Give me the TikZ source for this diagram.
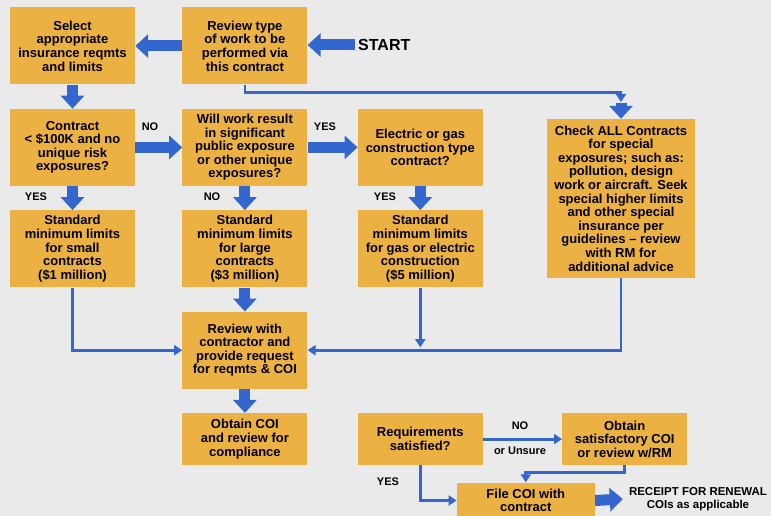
\documentclass[tikz,border=0pt]{standalone}
\usepackage{fontspec}
\setmainfont{Liberation Sans}
\usetikzlibrary{positioning, arrows.meta, calc}
\definecolor{bg}{HTML}{EAEAEA}
\definecolor{gold}{HTML}{EBB143}
\definecolor{flow}{HTML}{3466CF}
\begin{document}
\begin{tikzpicture}[x=1pt,y=-1pt,node distance=24pt and 47pt]
    \tikzset{b/.style={fill=gold,minimum width=125pt,minimum height=77pt,inner sep=2pt,align=center,font=\bfseries\fontsize{13}{13.6}\selectfont}, s/.style={b,minimum height=52pt}, lbl/.style={font=\bfseries\fontsize{11}{12.5}\selectfont,inner sep=1pt,align=center}, fat/.style={draw=flow,line width=11pt,-{Triangle[length=13pt,width=23pt]}}, thn/.style={draw=flow,line width=2.8pt,-{Triangle[length=8pt,width=10pt]}}}
    \fill[bg] (0,0) rectangle (771,516);
    \useasboundingbox (0,0) rectangle (771,516);
    % top row
    \node[b] (sel) at (72.5,46) {Select\\appropriate\\insurance reqmts\\and limits};
    \node[b,right=of sel] (rev) {Review type\\of work to be\\performed via\\this contract};
    \node[anchor=west,inner sep=3pt,font=\bfseries\fontsize{16}{18}\selectfont] (go) at (355,45) {START};
    % decisions
    \node[b,below=of sel] (con) {Contract\\< \$100K and no\\unique risk\\exposures?};
    \node[b,below=of rev] (wil) {Will work result\\in significant\\public exposure\\or other unique\\exposures?};
    \node[b,right=50pt of wil] (ele) {Electric or gas\\construction type\\contract?};
    \node[b,minimum width=148pt,minimum height=159pt] (chk) at (621,198.5) {Check ALL Contracts\\for special\\exposures; such as:\\pollution, design\\work or aircraft. Seek\\special higher limits\\and other special\\insurance per\\guidelines – review\\with RM for\\additional advice};
    \coordinate (chkin) at (621,102);
    % limits
    \node[b,below=of con] (small) {Standard\\minimum limits\\for small\\contracts\\(\$1 million)};
    \node[b,below=of wil] (large) {Standard\\minimum limits\\for large\\contracts\\(\$3 million)};
    \node[b,below=of ele] (gas) {Standard\\minimum limits\\for gas or electric\\construction\\(\$5 million)};
    % review and file
    \node[b,below=of large] (revc) {Review with\\contractor and\\provide request\\for reqmts \& COI};
    \node[s,below=of revc] (obt) {Obtain COI\\and review for\\compliance};
    \node[s,right=50pt of obt] (req) {Requirements\\satisfied?};
    \node[s,right=79pt of req] (sat) {Obtain\\satisfactory COI\\or review w/RM};
    \node[b,minimum width=138pt,minimum height=36pt,below=17pt of req,xshift=105.5pt] (fil) {File COI with\\contract};
    \node[lbl,inner sep=6pt,font=\bfseries\fontsize{11.5}{12.5}\selectfont] (rcp) at (698,499) {RECEIPT FOR RENEWAL\\COIs as applicable};
    % labels
    \node[lbl] (l1) at (150,127) {NO};
    \node[lbl] (l2) at (325,127) {YES};
    \node[lbl] (l3) at (36,197) {YES};
    \node[lbl] (l4) at (212,197) {NO};
    \node[lbl] (l5) at (385,197) {YES};
    \node[lbl] (l6) at (388,482) {YES};
    \node[lbl] (l7) at (520,426) {NO};
    \node[lbl] (l8) at (520,451) {or Unsure};
    % big arrows
    \draw[fat] (go.west) -- (go.west -| rev.east);
    \draw[fat] (rev.west) -- (sel.east);
    \draw[fat] (sel) -- (con); \draw[fat] (con) -- (wil); \draw[fat] (wil) -- (ele);
    \draw[fat] (con) -- (small); \draw[fat] (wil) -- (large); \draw[fat] (ele) -- (gas);
    \draw[fat] (large) -- (revc); \draw[fat] (revc) -- (obt);
    \draw[fat] ($(chkin)+(0,1.5)$) -- (chk.north);
    \draw[fat] (fil.east) -- (rcp.west);
    % thin connectors
    \draw[thn] (rev.south) -- ++(0,8) -| (chkin);
    \draw[thn] (small.south) |- (revc.west);
    \draw[thn] (chk.south) |- (revc.east);
    \draw[thn] (gas.south) -- ($(gas.south |- revc.east)+(0,-3)$);
    \draw[thn] (req.east) -- (sat.west);
    \draw[thn] (req.south) |- (fil.west);
    \draw[thn] (sat.south) -- ++(0,7) -| (fil.north);
\end{tikzpicture}
\end{document}
